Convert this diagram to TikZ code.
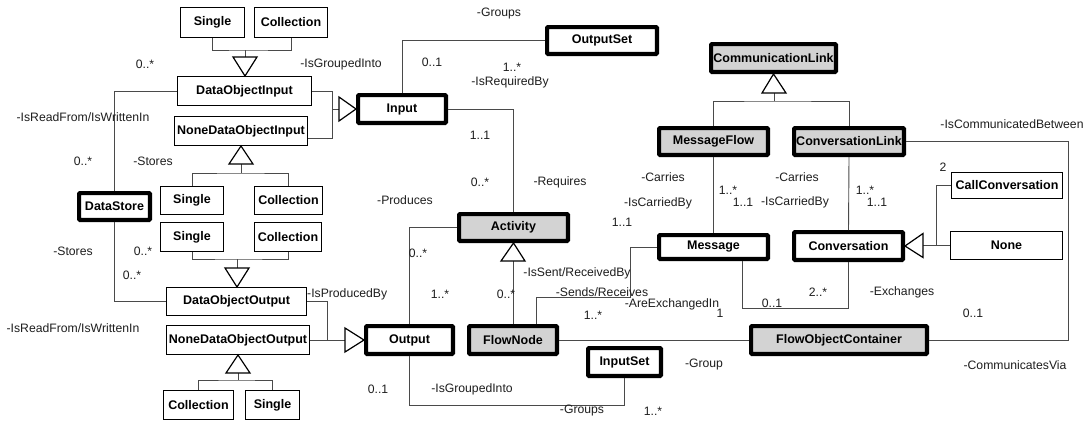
\documentclass[tikz,border=0pt]{standalone}
\usepackage{fontspec}
\setmainfont{Liberation Sans}
\definecolor{boxgrey}{HTML}{D3D3D3}
\definecolor{wire}{HTML}{4A4A4A}
\definecolor{ink}{HTML}{1E1E1E}
\tikzset{
  cls/.style={draw=black, line width=1.4pt, fill=white, inner sep=0pt,
    font=\bfseries\fontsize{12.5}{14}\selectfont},
  heavy/.style={cls, line width=4.2pt, rounded corners=1pt},
  shaded/.style={fill=boxgrey},
  wirel/.style={draw=wire, line width=0.9pt},
  gen/.style={draw=black, line width=1.2pt, fill=white, line join=miter},
  lab/.style={inner sep=0pt, text=ink, font=\fontsize{12.2}{14}\selectfont},
}
\begin{document}
\begin{tikzpicture}[x=1pt,y=-1pt]
\useasboundingbox[fill=white] (0,0) rectangle (1086,423);

% ---------- input side ----------
\node[cls, minimum width=63.6, minimum height=29.6] (sgl1) at (212.5,22.5) {Single};
\node[cls, minimum width=72.6, minimum height=29.6] (col1) at (291,22.5) {Collection};
\node[cls, minimum width=133.6, minimum height=28.6] (doi) at (244.5,91) {DataObjectInput};
\node[cls, minimum width=132.6, minimum height=28.6] (ndoi) at (241,131) {NoneDataObjectInput};
\node[cls, minimum width=62.6, minimum height=27.6] (sgl2) at (192,200.5) {Single};
\node[cls, minimum width=67.6, minimum height=27.6] (col2) at (288.5,200.5) {Collection};

% ---------- output side ----------
\node[cls, minimum width=62.6, minimum height=28.6] (sgl3) at (192,237) {Single};
\node[cls, minimum width=66.6, minimum height=28.6] (col3) at (288,237) {Collection};
\node[cls, minimum width=139.6, minimum height=27.6] (doo) at (236.5,301.5) {DataObjectOutput};
\node[cls, minimum width=142.6, minimum height=28.6] (ndoo) at (238,340) {NoneDataObjectOutput};
\node[cls, minimum width=69.6, minimum height=28.6] (col4) at (198.5,405) {Collection};
\node[cls, minimum width=53.6, minimum height=28.6] (sgl4) at (272.5,405) {Single};

\node[heavy, minimum width=70.8, minimum height=26.8] (store) at (114.5,206.5) {DataStore};
\node[heavy, minimum width=87.8, minimum height=27.8] (input) at (402,109) {Input};
\node[heavy, minimum width=109.8, minimum height=26.8] (oset) at (602,40.5) {OutputSet};
\node[heavy, shaded, minimum width=108.8, minimum height=26.8] (act) at (513.5,227.5) {Activity};
\node[heavy, shaded, minimum width=87.8, minimum height=27.8] (fnode) at (513,340) {FlowNode};
\node[heavy, minimum width=86.8, minimum height=27.8] (output) at (409.5,340) {Output};
\node[heavy, minimum width=72.8, minimum height=27.8] (iset) at (624.5,362) {InputSet};

% ---------- communication side ----------
\node[heavy, shaded, minimum width=124.8, minimum height=27.8] (clink) at (773.5,58) {CommunicationLink};
\node[heavy, shaded, minimum width=108.8, minimum height=26.8] (mflow) at (713.5,141.5) {MessageFlow};
\node[heavy, shaded, minimum width=109.8, minimum height=26.8] (cvlink) at (849,141.5) {ConversationLink};
\node[heavy, minimum width=108.8, minimum height=23.8] (msg) at (713.5,247) {Message};
\node[heavy, minimum width=108.8, minimum height=27.8] (conv) at (848.5,246) {Conversation};
\node[heavy, shaded, minimum width=175.8, minimum height=27.8] (foc) at (839,340) {FlowObjectContainer};
\node[cls, minimum width=110.6, minimum height=25.6] (callc) at (1007,185.5) {CallConversation};
\node[cls, minimum width=111.6, minimum height=27.6] (none) at (1006.5,245.5) {None};

% ---------- junction points ----------
\coordinate (j1) at (245,50);
\coordinate (j2) at (241,173);
\coordinate (j5) at (237,259);
\coordinate (j6) at (238,380);
\coordinate (j8) at (774,101);
\coordinate (k3) at (332,138);
\coordinate (k4) at (327,340);
\coordinate (k20) at (1068,340);
\coordinate (k15) at (630,297);

% ---------- generalisation trees ----------
\draw[wirel] (sgl1.south) |- (j1) -| (col1.south);
\draw[wirel] (j1) -- (245,57);
\draw[gen] (233,57) -- (257,57) -- (245,76) -- cycle;

\draw[wirel] (241,164) -- (j2);
\draw[wirel] (sgl2.north) |- (j2) -| (col2.north);
\draw[gen] (229,164) -- (253,164) -- (241,146) -- cycle;

\draw[wirel] (doi.east) -| (k3) -- (k3 -| ndoi.east);
\draw[wirel] (332,109) -- (339,109);
\draw[gen] (339,97) -- (339,121) -- (input.west) -- cycle;

\draw[wirel] (sgl3.south) |- (j5) -| (col3.south);
\draw[wirel] (j5) -- (237,268);
\draw[gen] (225,268) -- (249,268) -- (237,287) -- cycle;

\draw[wirel] (238,373) -- (j6);
\draw[wirel] (col4.north) |- (j6) -| (sgl4.north);
\draw[gen] (226,373) -- (250,373) -- (238,355) -- cycle;

\draw[wirel] (doo.east) -| (k4);
\draw[wirel] (ndoo.east) -- (345,340);
\draw[gen] (345,328) -- (345,352) -- (output.west) -- cycle;

\draw[wirel] (513,261) -- (fnode.north);
\draw[gen] (501,261) -- (525,261) -- (act.south) -- cycle;

\draw[wirel] (774,93) -- (j8);
\draw[wirel] (mflow.north) |- (j8) -| (cvlink.north);
\draw[gen] (762,93) -- (786,93) -- (clink.south) -- cycle;

\draw[wirel] (none.west) -- (923,245.5);
\draw[wirel] (callc.west) -| (936,245.5);
\draw[gen] (923,233.5) -- (923,257.5) -- (conv.east) -- cycle;

% ---------- associations ----------
\draw[wirel] (store.north) |- (doi.west);
\draw[wirel] (store.south) |- (doo.west);
\draw[wirel] (input.north) |- (oset.west);
\draw[wirel] (input.east) -| (act.north);
\draw[wirel] (act.west) -| (output.north);
\draw[wirel] (fnode.east) -- (foc.west);
\draw[wirel] (output.south) -- ++(0,49) -| (iset.south);
\draw[wirel] ([xshift=23pt]fnode.north) |- (k15) |- (msg.west);
\draw[wirel] (mflow.south) -- (msg.north);
\draw[wirel] ([xshift=28.5pt]msg.south) -- ++(0,47) -| (conv.south);
\draw[wirel] (cvlink.south) -- (conv.north);
\draw[wirel] (cvlink.east) -| (k20) -- (foc.east);

% ---------- role names and multiplicities ----------
\node[lab] (l1) at (145,64) {0..*};
\node[lab] (l2) at (341,64) {-IsGroupedInto};
\node[lab] (l3) at (83,117) {-IsReadFrom/IsWrittenIn};
\node[lab] (l4) at (83,161) {0..*};
\node[lab] (l5) at (153,161) {-Stores};
\node[lab] (l6) at (73,251) {-Stores};
\node[lab] (l7) at (143,251) {0..*};
\node[lab] (l8) at (132,275) {0..*};
\node[lab, anchor=west] (l9) at (307,294) {-IsProducedBy};
\node[lab] (l10) at (73,328) {-IsReadFrom/IsWrittenIn};
\node[lab] (l11) at (499,14) {-Groups};
\node[lab] (l12) at (432,62) {0..1};
\node[lab] (l13) at (512,67) {1..*};
\node[lab] (l14) at (510,82) {-IsRequiredBy};
\node[lab] (l15) at (480,135) {1..1};
\node[lab] (l16) at (480,182) {0..*};
\node[lab] (l17) at (560,182) {-Requires};
\node[lab] (l18) at (405,200) {-Produces};
\node[lab] (l19) at (663,177) {-Carries};
\node[lab] (l20) at (658,203) {-IsCarriedBy};
\node[lab] (l21) at (622,222) {1..1};
\node[lab] (l22) at (418,253) {0..*};
\node[lab] (l23) at (440,294) {1..*};
\node[lab] (l24) at (506,294) {0..*};
\node[lab] (l25) at (577,273) {-IsSent/ReceivedBy};
\node[lab] (l26) at (602,292) {-Sends/Receives};
\node[lab] (l27) at (593,315) {1..*};
\node[lab] (l28) at (672,304) {-AreExchangedIn};
\node[lab] (l29) at (720,313) {1};
\node[lab] (l30) at (772,303) {0..1};
\node[lab] (l31) at (378,389) {0..1};
\node[lab] (l32) at (472,389) {-IsGroupedInto};
\node[lab] (l33) at (582,411) {-Groups};
\node[lab] (l34) at (653,411) {1..*};
\node[lab] (l35) at (704,365) {-Group};
\node[lab] (l36) at (1012,124) {-IsCommunicatedBetween};
\node[lab] (l37) at (943,167) {2};
\node[lab] (l38) at (797,177) {-Carries};
\node[lab] (l39) at (728,190) {1..*};
\node[lab] (l40) at (743,202) {1..1};
\node[lab] (l41) at (795,202) {-IsCarriedBy};
\node[lab] (l42) at (865,190) {1..*};
\node[lab] (l43) at (877,202) {1..1};
\node[lab] (l44) at (818,292) {2..*};
\node[lab] (l45) at (902,292) {-Exchanges};
\node[lab] (l46) at (973,313) {0..1};
\node[lab] (l47) at (1015,365) {-CommunicatesVia};
\end{tikzpicture}
\end{document}
